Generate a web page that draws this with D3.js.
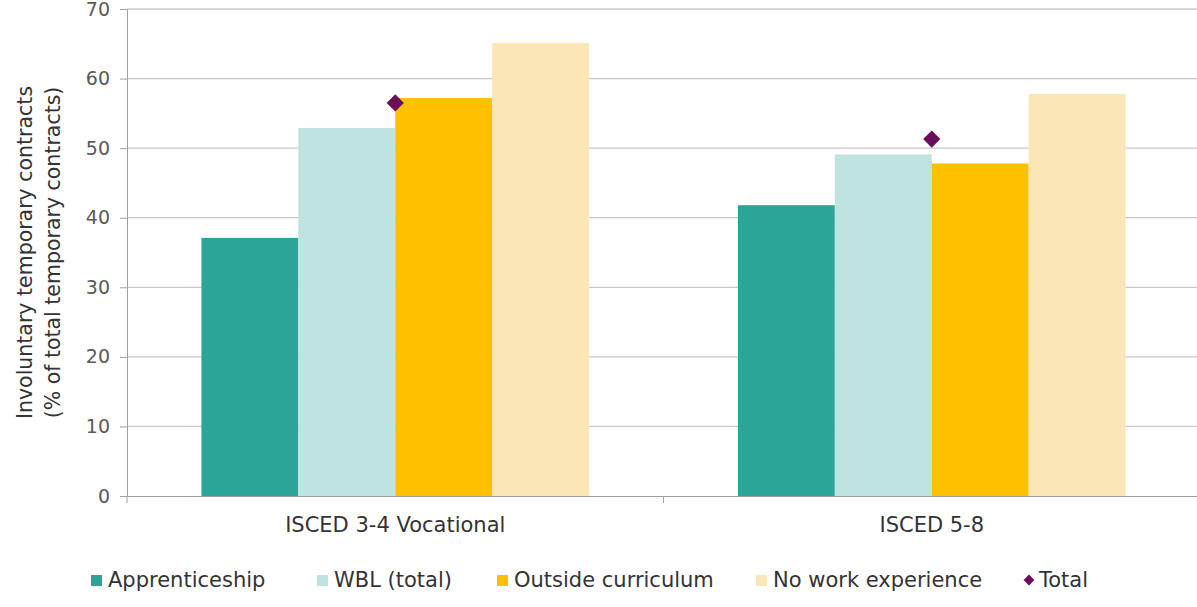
<!DOCTYPE html>
<html><head><meta charset="utf-8">
<script src="https://cdn.jsdelivr.net/npm/d3@7"></script>
<style>body{margin:0;background:#fff}svg{display:block}</style>
</head><body>
<script>
const categories = ["ISCED 3-4 Vocational", "ISCED 5-8"];
const seriesNames = ["Apprenticeship", "WBL (total)", "Outside curriculum", "No work experience"];
const apprenticeship = [37.1, 41.8];
const wblTotal = [52.9, 49.1];
const outsideCurriculum = [57.2, 47.8];
const noWorkExperience = [65.1, 57.8];
const total = [56.5, 51.3];
const yTicks = [0, 10, 20, 30, 40, 50, 60, 70];
const colors = ["#2aa598", "#bfe3df", "#ffc000", "#fbe6b5"];
const totalColor = "#6b0f5a";

const FONT = "'DejaVu Sans', 'Open Sans', sans-serif";
const W = 1197, H = 607;
const m = {left: 127, right: -3, top: 9, bottom: 111};
const svg = d3.select("body").append("svg").attr("width", W).attr("height", H)
  .style("font-family", FONT);

const x0 = d3.scaleBand().domain(categories).range([m.left, W - m.right]).paddingInner(0).paddingOuter(0);
const x1 = d3.scaleBand().domain(seriesNames).range([0, x0.bandwidth()]).paddingOuter(0.768).paddingInner(0);
const y = d3.scaleLinear().domain([0, 70]).range([H - m.bottom, m.top]);

// gridlines
svg.append("g").selectAll("line").data(yTicks.filter(d => d > 0)).join("line")
  .attr("x1", m.left).attr("x2", W).attr("y1", d => y(d)).attr("y2", d => y(d))
  .attr("stroke", "#c8c8c8").attr("stroke-width", 1.3);

const seriesData = [apprenticeship, wblTotal, outsideCurriculum, noWorkExperience];
seriesNames.forEach((s, i) => {
  svg.append("g").selectAll("rect").data(categories).join("rect")
    .attr("x", c => x0(c) + x1(s))
    .attr("width", x1.bandwidth())
    .attr("y", (c, j) => y(seriesData[i][j]))
    .attr("height", (c, j) => y(0) - y(seriesData[i][j]))
    .attr("fill", colors[i]);
});

// y axis
const yAxis = svg.append("g").attr("transform", `translate(${m.left},0)`)
  .call(d3.axisLeft(y).tickValues(yTicks).tickSize(7).tickPadding(10));
yAxis.select(".domain").attr("stroke", "#a0a0a0");
yAxis.selectAll(".tick line").attr("stroke", "#a0a0a0");
yAxis.selectAll("text").attr("fill", "#595959").style("font-size", "19px").style("font-family", FONT);

// x axis
const xAxis = svg.append("g").attr("transform", `translate(0,${y(0)})`)
  .call(d3.axisBottom(x0).tickSize(0).tickPadding(21));
xAxis.select(".domain").attr("stroke", "#a0a0a0");
xAxis.selectAll("text").attr("fill", "#333").style("font-size", "21px").style("font-family", FONT);
// category boundary ticks
const bounds = [m.left, x0(categories[1]), W - m.right];
svg.append("g").selectAll("line").data(bounds).join("line")
  .attr("x1", d => d).attr("x2", d => d).attr("y1", y(0)).attr("y2", y(0) + 7)
  .attr("stroke", "#a0a0a0");

// total diamonds
svg.append("g").selectAll("path").data(categories).join("path")
  .attr("d", d3.symbol(d3.symbolDiamond2, 190))
  .attr("transform", (c, j) => `translate(${x0(c) + x1(seriesNames[2])},${y(total[j])})`)
  .attr("fill", totalColor);

// axis title
const t = svg.append("text").attr("transform", `translate(26,${(y(0) + y(70)) / 2}) rotate(-90)`)
  .attr("text-anchor", "middle").attr("fill", "#333").style("font-size", "20.5px");
t.append("tspan").attr("x", 0).attr("dy", 0).attr("dominant-baseline", "middle").text("Involuntary temporary contracts");
t.append("tspan").attr("x", 0).attr("dy", 28).attr("dominant-baseline", "middle").text("(% of total temporary contracts)");

// legend
const legendItems = [
  {name: "Apprenticeship", color: colors[0], x: 91, type: "rect"},
  {name: "WBL (total)", color: colors[1], x: 317, type: "rect"},
  {name: "Outside curriculum", color: colors[2], x: 497, type: "rect"},
  {name: "No work experience", color: colors[3], x: 756, type: "rect"},
  {name: "Total", color: totalColor, x: 1022, type: "diamond"}
];
const lg = svg.append("g").attr("transform", "translate(0,580)");
legendItems.forEach(it => {
  if (it.type === "rect") {
    lg.append("rect").attr("x", it.x).attr("y", -5).attr("width", 11).attr("height", 11).attr("fill", it.color);
  } else {
    lg.append("path").attr("d", d3.symbol(d3.symbolDiamond2, 75)).attr("transform", `translate(${it.x + 7},0)`).attr("fill", it.color);
  }
  lg.append("text").attr("x", it.x + 17).attr("y", 0).attr("dy", "0.35em")
    .attr("fill", "#333").style("font-size", "21px").text(it.name);
});
</script>
</body></html>
